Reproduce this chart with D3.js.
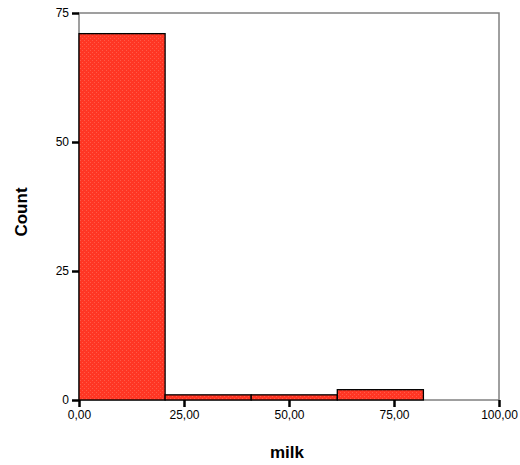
<!DOCTYPE html>
<html><head><meta charset="utf-8">
<script src="https://cdn.jsdelivr.net/npm/d3@7"></script>
<style>body{margin:0;background:#fff}svg{display:block}</style>
</head><body>
<script>
const binStarts = [0, 20.5, 41, 61.5];
const binWidth = 20.5;
const counts = [71, 1, 1, 2];
const xTicks = [0, 25, 50, 75, 100];
const yTicks = [0, 25, 50, 75];

const W = 520, H = 465;
const m = {left: 79, right: 20, top: 13, bottom: 65};
const svg = d3.select("body").append("svg").attr("width", W).attr("height", H);

const defs = svg.append("defs");
const pat = defs.append("pattern").attr("id", "tex").attr("patternUnits", "userSpaceOnUse")
  .attr("width", 4).attr("height", 4);
pat.append("rect").attr("width", 4).attr("height", 4).attr("fill", "#ff3624");
pat.append("rect").attr("x", 0).attr("y", 0).attr("width", 1).attr("height", 1).attr("fill", "#ff5a48");
pat.append("rect").attr("x", 2).attr("y", 2).attr("width", 1).attr("height", 1).attr("fill", "#ff5a48");

const x = d3.scaleLinear().domain([0, 100]).range([m.left, W - m.right - 1]);
const y = d3.scaleLinear().domain([0, 75]).range([H - m.bottom, m.top]);

// frame
svg.append("rect").attr("x", x(0)).attr("y", y(75)).attr("width", x(100) - x(0)).attr("height", y(0) - y(75))
  .attr("fill", "none").attr("stroke", "#808080").attr("stroke-width", 1.5);

// bars
svg.selectAll("rect.bar").data(counts).enter().append("rect").attr("class", "bar")
  .attr("x", (d, i) => x(binStarts[i]))
  .attr("y", d => y(d))
  .attr("width", (d, i) => x(binStarts[i] + binWidth) - x(binStarts[i]))
  .attr("height", d => y(0) - y(d))
  .attr("fill", "url(#tex)").attr("stroke", "#000").attr("stroke-width", 1.3);

const fmt = d => d3.format(".2f")(d).replace(".", ",");
const xAxis = svg.append("g").attr("transform", `translate(0,${y(0)})`)
  .call(d3.axisBottom(x).tickValues(xTicks).tickFormat(fmt).tickSize(7).tickPadding(3));
const yAxis = svg.append("g").attr("transform", `translate(${x(0)},0)`)
  .call(d3.axisLeft(y).tickValues(yTicks).tickSize(7).tickPadding(3));
[xAxis, yAxis].forEach(g => {
  g.select(".domain").remove();
  g.selectAll(".tick line").attr("stroke", "#000").attr("stroke-width", 2.5);
  g.selectAll("text").attr("fill", "#000").style("font-family", "Liberation Sans, Arial, sans-serif").style("font-size", "12px");
});

svg.append("text").attr("x", 287).attr("y", 458).attr("text-anchor", "middle")
  .style("font-family", "Liberation Sans, Arial, sans-serif").style("font-size", "17px").style("font-weight", "bold")
  .text("milk");
svg.append("text").attr("transform", "translate(27,212) rotate(-90)").attr("text-anchor", "middle")
  .style("font-family", "Liberation Sans, Arial, sans-serif").style("font-size", "17px").style("font-weight", "bold")
  .text("Count");
</script>
</body></html>
